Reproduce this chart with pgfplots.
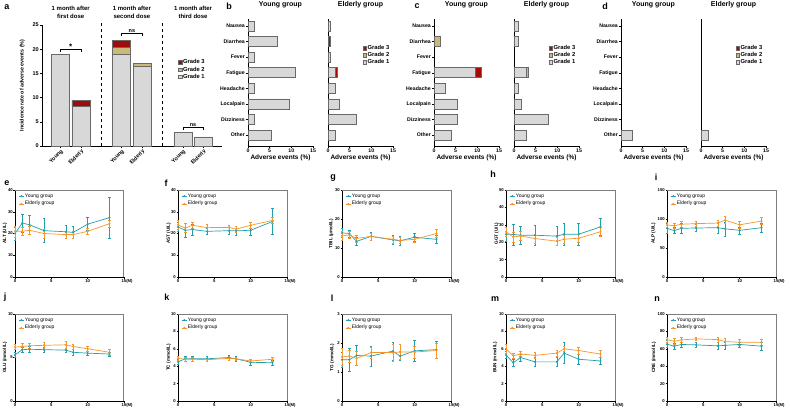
\documentclass[border=0pt]{standalone}
\usepackage{fontspec}
\setmainfont{Liberation Sans}
\usepackage{pgfplots}
\pgfplotsset{compat=1.18}
\definecolor{yng}{RGB}{32,160,172}
\definecolor{eld}{RGB}{245,150,40}
\definecolor{gthree}{RGB}{165,10,10}
\definecolor{gtwo}{RGB}{200,186,125}
\definecolor{gone}{RGB}{216,216,216}
\definecolor{bord}{RGB}{105,105,105}
\definecolor{frm}{RGB}{125,125,125}
\newcommand{\fs}[1]{\fontsize{#1}{#1}\selectfont}
\pgfplotsset{
  base/.style={scale only axis, anchor=south west, clip=false,
    /pgf/number format/assume math mode=true,
    axis x line*=bottom, axis y line*=left,
    axis line style={-, black, line width=0.6pt},
    tick style={black, line width=0.5pt}, tick align=outside,
    major tick length=2pt,
    every tick label/.append style={inner sep=1pt}},
  barsty/.style={draw=bord, line width=0.6pt},
  gradelegend/.style={legend style={draw=none, fill=none, font=\bfseries\fs{5.8}, inner sep=0pt, row sep=0pt, nodes={inner sep=0.7pt}, cells={anchor=west}},
    legend image code/.code={\draw[##1, line width=0.5pt] (0pt,-1.9pt) rectangle (3.8pt,1.9pt);}, reverse legend},
  hbar/.style={base, width=65pt, height=127pt, xmin=0, xmax=15, ymin=0.3, ymax=8.45,
    xbar stacked, bar width=0.64, xtick={0,5,10,15}, ytick={1,...,8},
    tick label style={font=\bfseries\fs{5.2}},
    xlabel={Adverse events (\%)}, xlabel style={font=\bfseries\fs{6.5}, inner sep=1pt},
    title style={at={(0.5,1)}, anchor=south, yshift=5pt, inner sep=0pt, font=\bfseries\fs{7}}},
  hbarY/.style={hbar, yticklabels={Other,Dizziness,Localpain,Headache,Fatigue,Fever,Diarrhea,Nausea}, title={Young group}},
  hbarE/.style={hbar, ytick=\empty, title={Elderly group}, gradelegend, legend style={at={(0.53,0.8)}, anchor=north west}},
  linepanel/.style={base, width=109pt, height=87pt, xmin=0, xmax=15, ymin=0,
    xtick={0,5,10,15}, xticklabels={0,5,10,{15\rlap{(M)}}}, major tick length=1.5pt,
    tick label style={font=\bfseries\fs{4.2}, inner sep=0.6pt},
    ylabel style={font=\bfseries\fs{4.6}, anchor=center},
    legend style={draw=none, fill=none, font=\fs{5}, at={(0.03,0.97)}, anchor=north west, inner sep=0pt, row sep=1.2pt, nodes={inner sep=0.8pt}, cells={anchor=west}},
    legend image code/.code={\draw[mark repeat=2, mark phase=2, ##1] plot coordinates {(0pt,0pt) (2.5pt,0pt) (5pt,0pt)};},
    after end axis/.code={\draw[frm, line width=1pt] (rel axis cs:0,1) -- (rel axis cs:1,1) -- (rel axis cs:1,0);}},
  yg/.style={color=yng, line width=0.7pt, mark=*, mark size=0.65pt,
    error bars/.cd, y dir=both, y explicit, error bar style={line width=0.5pt}, error mark options={rotate=90, mark size=1.3pt, line width=0.5pt}},
  el/.style={color=eld, line width=0.7pt, mark=*, mark size=0.65pt,
    error bars/.cd, y dir=both, y explicit, error bar style={line width=0.5pt}, error mark options={rotate=90, mark size=1.3pt, line width=0.5pt}},
}
\begin{document}
\begin{tikzpicture}
\useasboundingbox (0pt,0pt) rectangle (790pt,-415pt);
% panel letters
\foreach \l/\x/\y in {a/7/7, b/229/6, c/417/6, d/605/6, e/7/183, f/166/183, g/333/178, h/493/174, i/656/177, j/5/297, k/167/297, l/332/298, m/495/299, n/657/299}
  \node[font=\bfseries\fs{9}] at (\x pt,-\y pt) {\l};

% ---------------- panel a
\begin{axis}[base, at={(42pt,-146pt)}, width=180pt, height=121pt,
  xmin=0.093, xmax=8.92, ymin=0, ymax=25, ybar stacked, bar width=0.88,
  ytick={0,5,...,25}, xtick={1,2,4,5,7,8},
  xticklabels={Young,Elderly,Young,Elderly,Young,Elderly},
  x tick label style={rotate=45, anchor=north east, font=\bfseries\fs{5.5}, inner sep=0.5pt},
  y tick label style={font=\bfseries\fs{5.5}},
  ylabel={Incidence rate of adverse events (\%)},
  ylabel style={font=\bfseries\fs{5.3}, at={(axis description cs:-0.11,0.5)}, anchor=center},
  gradelegend, legend style={at={(0.755,0.72)}, anchor=north west}]
\addplot[barsty, fill=gone] coordinates {(1,19) (2,8.1) (4,19) (5,16.4) (7,2.75) (8,1.9)};
\addplot[barsty, fill=gtwo] coordinates {(1,0) (2,0) (4,1.4) (5,0.7) (7,0) (8,0)};
\addplot[barsty, fill=gthree] coordinates {(1,0) (2,1.4) (4,1.4) (5,0) (7,0) (8,0)};
\legend{Grade 1, Grade 2, Grade 3}
\draw[dashed, line width=0.4pt] (axis cs:3,0) -- (axis cs:3,26);
\draw[dashed, line width=0.4pt] (axis cs:6,0) -- (axis cs:6,26);
\node[font=\bfseries\fontsize{6}{8}\selectfont, align=center] at (axis cs:1.5,27.7) {1 month after\\first dose};
\node[font=\bfseries\fontsize{6}{8}\selectfont, align=center] at (axis cs:4.5,27.7) {1 month after\\second dose};
\node[font=\bfseries\fontsize{6}{8}\selectfont, align=center] at (axis cs:7.5,27.7) {1 month after\\third dose};
\draw[line width=0.6pt] (axis cs:1,19.5) -- (axis cs:1,20) -- (axis cs:2,20) -- (axis cs:2,19.5);
\node[font=\bfseries\fs{8}, anchor=south, inner sep=0pt] at (axis cs:1.5,20) {*};
\draw[line width=0.6pt] (axis cs:4,22.8) -- (axis cs:4,23.3) -- (axis cs:5,23.3) -- (axis cs:5,22.8);
\node[font=\bfseries\fs{5.5}, anchor=south, inner sep=0.5pt] at (axis cs:4.5,23.3) {ns};
\draw[line width=0.6pt] (axis cs:7,3.4) -- (axis cs:7,3.9) -- (axis cs:8,3.9) -- (axis cs:8,3.4);
\node[font=\bfseries\fs{5.5}, anchor=south, inner sep=0.5pt] at (axis cs:7.5,3.9) {ns};
\end{axis}

% ---------------- panel b
\begin{axis}[hbarY, at={(248pt,-146pt)}]
\addplot[barsty, fill=gone] coordinates {(5.4,1) (1.35,2) (9.5,3) (1.35,4) (10.8,5) (1.35,6) (6.8,7) (1.35,8)};
\end{axis}
\begin{axis}[hbarE, at={(328pt,-146pt)}]
\addplot[barsty, fill=gone] coordinates {(1.6,1) (6.5,2) (2.7,3) (1.6,4) (1.6,5) (0.55,6) (0,7) (0.55,8)};
\addplot[barsty, fill=gtwo] coordinates {(0,1) (0,2) (0,3) (0,4) (0,5) (0,6) (0,7) (0,8)};
\addplot[barsty, fill=gthree] coordinates {(0,1) (0,2) (0,3) (0,4) (0.55,5) (0,6) (0.55,7) (0,8)};
\legend{Grade 1, Grade 2, Grade 3}
\end{axis}

% ---------------- panel c
\begin{axis}[hbarY, at={(434pt,-146pt)}]
\addplot[barsty, fill=gone] coordinates {(4.0,1) (5.4,2) (5.4,3) (2.6,4) (9.5,5) (0,6) (0,7) (0,8)};
\addplot[barsty, fill=gtwo] coordinates {(0,1) (0,2) (0,3) (0,4) (0,5) (0,6) (1.35,7) (0,8)};
\addplot[barsty, fill=gthree] coordinates {(0,1) (0,2) (0,3) (0,4) (1.5,5) (0,6) (0,7) (0,8)};
\end{axis}
\begin{axis}[hbarE, at={(514pt,-146pt)}]
\addplot[barsty, fill=gone] coordinates {(2.9,1) (8.0,2) (1.6,3) (1.1,4) (2.8,5) (0,6) (1.1,7) (1.1,8)};
\addplot[barsty, fill=gtwo] coordinates {(0,1) (0,2) (0,3) (0,4) (0.5,5) (0,6) (0,7) (0,8)};
\addplot[barsty, fill=gthree] coordinates {(0,1) (0,2) (0,3) (0,4) (0,5) (0,6) (0,7) (0,8)};
\legend{Grade 1, Grade 2, Grade 3}
\end{axis}

% ---------------- panel d
\begin{axis}[hbarY, at={(621pt,-146pt)}]
\addplot[barsty, fill=gone] coordinates {(2.7,1) (0,2) (0,3) (0,4) (0,5) (0,6) (0,7) (0,8)};
\end{axis}
\begin{axis}[hbarE, at={(701pt,-146pt)}]
\addplot[barsty, fill=gone] coordinates {(1.6,1) (0,2) (0,3) (0,4) (0,5) (0,6) (0,7) (0,8)};
\addplot[barsty, fill=gtwo] coordinates {(0,1) (0,2) (0,3) (0,4) (0,5) (0,6) (0,7) (0,8)};
\addplot[barsty, fill=gthree] coordinates {(0,1) (0,2) (0,3) (0,4) (0,5) (0,6) (0,7) (0,8)};
\legend{Grade 1, Grade 2, Grade 3}
\end{axis}

% ---------------- panel e ALT
\begin{axis}[linepanel, at={(15pt,-277pt)}, ymax=40, ytick={0,10,20,30,40},
  ylabel={ALT (U/L)}, ylabel style={at={(axis description cs:-0.092,0.5)}}]
\addplot[yg] coordinates {(0,20) +- (0,3) (1,24.8) +- (0,4) (2,24) +- (0,4.5) (4,21.3) +- (0,5.5) (7,20.8) +- (0,2.8) (8,20.5) +- (0,2.8) (10,24.3) +- (0,3) (13,27.3) +- (0,9.5)};
\addplot[el] coordinates {(0,21) +- (0,2.5) (1,21) +- (0,2) (2,21.5) +- (0,2) (4,20) +- (0,2) (7,19.5) +- (0,1.5) (8,19.5) +- (0,1.5) (10,21) +- (0,1.5) (13,24.5) +- (0,1.5)};
\legend{Young group, Elderly group}
\end{axis}

% ---------------- panel f AST
\begin{axis}[linepanel, at={(178pt,-277pt)}, ymax=40, ytick={0,10,20,30,40},
  ylabel={AST (U/L)}, ylabel style={at={(axis description cs:-0.085,0.5)}}]
\addplot[yg] coordinates {(0,23) +- (0,2) (1,21.5) +- (0,3) (2,21.8) +- (0,2.5) (4,21) +- (0,1.5) (7,21.3) +- (0,1.5) (8,21.2) +- (0,2) (10,21.5) +- (0,2.5) (13,25.5) +- (0,6)};
\addplot[el] coordinates {(0,24) +- (0,2) (1,22.5) +- (0,2) (2,23.8) +- (0,1.5) (4,22.7) +- (0,1.5) (7,22.8) +- (0,1.2) (8,22) +- (0,1.5) (10,23.8) +- (0,1.5) (13,26) +- (0,1.5)};
\legend{Young group, Elderly group}
\end{axis}

% ---------------- panel g TBIL
\begin{axis}[linepanel, at={(342pt,-277pt)}, ymax=30, ytick={0,10,20,30},
  ylabel={TBIL (μmol/L)}, ylabel style={at={(axis description cs:-0.1,0.5)}}]
\addplot[yg] coordinates {(0,15.2) +- (0,1.5) (1,15) +- (0,1.2) (2,12.3) +- (0,1.5) (4,14) +- (0,1.3) (7,12.8) +- (0,1.5) (8,12.5) +- (0,1.5) (10,13.7) +- (0,1.5) (13,13) +- (0,1.5)};
\addplot[el] coordinates {(0,14.2) +- (0,1.5) (1,14.5) +- (0,1.2) (2,13.3) +- (0,1.2) (4,14) +- (0,1.2) (7,13) +- (0,1.2) (8,12.6) +- (0,1) (10,13) +- (0,1) (13,15) +- (0,1.3)};
\legend{Young group, Elderly group}
\end{axis}

% ---------------- panel h GGT
\begin{axis}[linepanel, at={(506pt,-277pt)}, ymax=50, ytick={0,10,...,50},
  ylabel={GGT (U/L)}, ylabel style={at={(axis description cs:-0.085,0.5)}}]
\addplot[yg] coordinates {(0,24.6) +- (0,4) (1,24.5) +- (0,6) (2,24) +- (0,5) (4,24) +- (0,6) (7,23.5) +- (0,5.5) (8,24.6) +- (0,6.5) (10,24.6) +- (0,6.5) (13,28.8) +- (0,5)};
\addplot[el] coordinates {(0,26) +- (0,2.5) (1,23) +- (0,3) (2,23.6) +- (0,2.5) (4,22.1) +- (0,2.5) (7,20.6) +- (0,2.5) (8,21.7) +- (0,2.5) (10,22.3) +- (0,2.5) (13,26) +- (0,2.5)};
\legend{Young group, Elderly group}
\end{axis}

% ---------------- panel i ALP
\begin{axis}[linepanel, at={(667pt,-277pt)}, ymax=150, ytick={0,50,100,150},
  ylabel={ALP (U/L)}, ylabel style={at={(axis description cs:-0.125,0.5)}}]
\addplot[yg] coordinates {(0,84) +- (0,8) (1,80) +- (0,5) (2,84) +- (0,8) (4,84.5) +- (0,6) (7,85) +- (0,10) (8,83) +- (0,12) (10,80.5) +- (0,6) (13,85) +- (0,8)};
\addplot[el] coordinates {(0,89.7) +- (0,5) (1,88.5) +- (0,5) (2,91) +- (0,5) (4,92) +- (0,4) (7,93) +- (0,5) (8,98) +- (0,6) (10,90) +- (0,6) (13,96.5) +- (0,6)};
\legend{Young group, Elderly group}
\end{axis}

% ---------------- panel j GLU
\begin{axis}[linepanel, at={(15pt,-401pt)}, ymax=10, ytick={0,5,10},
  ylabel={GLU (mmol/L)}, ylabel style={at={(axis description cs:-0.092,0.5)}}]
\addplot[yg] coordinates {(0,5.3) +- (0,0.3) (1,5.9) +- (0,0.3) (2,5.95) +- (0,0.3) (4,5.9) +- (0,0.25) (7,5.85) +- (0,0.25) (8,5.6) +- (0,0.3) (10,5.5) +- (0,0.25) (13,5.4) +- (0,0.2)};
\addplot[el] coordinates {(0,6.2) +- (0,0.3) (1,6.27) +- (0,0.35) (2,6.35) +- (0,0.3) (4,6.4) +- (0,0.3) (7,6.46) +- (0,0.4) (8,6.27) +- (0,0.3) (10,6.0) +- (0,0.3) (13,5.6) +- (0,0.3)};
\legend{Young group, Elderly group}
\end{axis}

% ---------------- panel k TC
\begin{axis}[linepanel, at={(178pt,-401pt)}, ymax=10, ytick={0,2,...,10},
  ylabel={TC (mmol/L)}, ylabel style={at={(axis description cs:-0.085,0.5)}}]
\addplot[yg] coordinates {(0,4.5) +- (0,0.3) (1,4.85) +- (0,0.25) (2,4.85) +- (0,0.3) (4,4.85) +- (0,0.25) (7,5.0) +- (0,0.3) (8,4.85) +- (0,0.3) (10,4.45) +- (0,0.3) (13,4.4) +- (0,0.3)};
\addplot[el] coordinates {(0,4.9) +- (0,0.2) (1,4.8) +- (0,0.2) (2,4.8) +- (0,0.2) (4,4.75) +- (0,0.2) (7,4.9) +- (0,0.2) (8,4.85) +- (0,0.2) (10,4.6) +- (0,0.2) (13,4.8) +- (0,0.2)};
\legend{Young group, Elderly group}
\end{axis}

% ---------------- panel l TG
\begin{axis}[linepanel, at={(342pt,-401pt)}, ymax=3, ytick={0,1,2,3},
  ylabel={TG (mmol/L)}, ylabel style={at={(axis description cs:-0.09,0.5)}}]
\addplot[yg] coordinates {(0,1.42) +- (0,0.25) (1,1.42) +- (0,0.4) (2,1.57) +- (0,0.35) (4,1.55) +- (0,0.35) (7,1.72) +- (0,0.3) (8,1.55) +- (0,0.15) (10,1.73) +- (0,0.35) (13,1.77) +- (0,0.3)};
\addplot[el] coordinates {(0,1.52) +- (0,0.3) (1,1.55) +- (0,0.2) (2,1.47) +- (0,0.25) (4,1.67) +- (0,0.2) (7,1.67) +- (0,0.3) (8,1.69) +- (0,0.25) (10,1.69) +- (0,0.2) (13,1.74) +- (0,0.25)};
\legend{Young group, Elderly group}
\end{axis}

% ---------------- panel m BUN
\begin{axis}[linepanel, at={(506pt,-401pt)}, ymax=10, ytick={0,2,...,10},
  ylabel={BUN (mmol/L)}, ylabel style={at={(axis description cs:-0.1,0.5)}}]
\addplot[yg] coordinates {(0,5.3) +- (0,0.4) (1,4.4) +- (0,0.4) (2,5.0) +- (0,0.4) (4,4.5) +- (0,0.5) (7,4.5) +- (0,0.5) (8,5.5) +- (0,1.2) (10,4.8) +- (0,0.6) (13,4.6) +- (0,0.4)};
\addplot[el] coordinates {(0,6.0) +- (0,0.5) (1,5.2) +- (0,0.3) (2,5.4) +- (0,0.3) (4,5.25) +- (0,0.3) (7,5.5) +- (0,0.3) (8,6.0) +- (0,0.3) (10,5.8) +- (0,0.4) (13,5.4) +- (0,0.4)};
\legend{Young group, Elderly group}
\end{axis}

% ---------------- panel n CRE
\begin{axis}[linepanel, at={(667pt,-401pt)}, ymax=100, ytick={0,20,...,100},
  ylabel={CRE (mmol/L)}, ylabel style={at={(axis description cs:-0.12,0.5)}}]
\addplot[yg] coordinates {(0,65.3) +- (0,4) (1,63) +- (0,3) (2,65) +- (0,3) (4,64.5) +- (0,3) (7,63.4) +- (0,4) (8,64) +- (0,4) (10,65) +- (0,3) (13,63) +- (0,5)};
\addplot[el] coordinates {(0,70.6) +- (0,3) (1,68.7) +- (0,3) (2,70.2) +- (0,3) (4,71.4) +- (0,2) (7,70.6) +- (0,3) (8,68.3) +- (0,4) (10,67.6) +- (0,3) (13,67.6) +- (0,3)};
\legend{Young group, Elderly group}
\end{axis}
\end{tikzpicture}
\end{document}
